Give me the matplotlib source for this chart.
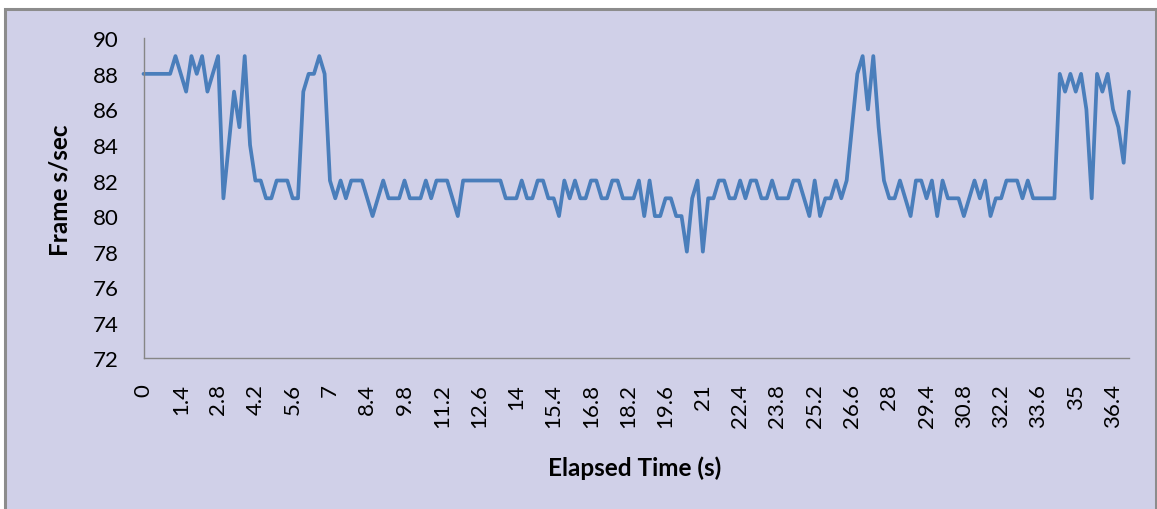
import matplotlib
matplotlib.use("Agg")
import matplotlib.pyplot as plt
from matplotlib.patches import Rectangle

# ---- data ----
elapsed_time = [round(0.2 * i, 1) for i in range(186)]
frames_per_sec = [
    88, 88, 88, 88, 88, 88, 89, 88, 87, 89,
    88, 89, 87, 88, 89, 81, 84, 87, 85, 89,
    84, 82, 82, 81, 81, 82, 82, 82, 81, 81,
    87, 88, 88, 89, 88, 82, 81, 82, 81, 82,
    82, 82, 81, 80, 81, 82, 81, 81, 81, 82,
    81, 81, 81, 82, 81, 82, 82, 82, 81, 80,
    82, 82, 82, 82, 82, 82, 82, 82, 81, 81,
    81, 82, 81, 81, 82, 82, 81, 81, 80, 82,
    81, 82, 81, 81, 82, 82, 81, 81, 82, 82,
    81, 81, 81, 82, 80, 82, 80, 80, 81, 81,
    80, 80, 78, 81, 82, 78, 81, 81, 82, 82,
    81, 81, 82, 81, 82, 82, 81, 81, 82, 81,
    81, 81, 82, 82, 81, 80, 82, 80, 81, 81,
    82, 81, 82, 85, 88, 89, 86, 89, 85, 82,
    81, 81, 82, 81, 80, 82, 82, 81, 82, 80,
    82, 81, 81, 81, 80, 81, 82, 81, 82, 80,
    81, 81, 82, 82, 82, 81, 82, 81, 81, 81,
    81, 81, 88, 87, 88, 87, 88, 86, 81, 88,
    87, 88, 86, 85, 83, 87,
]
y_ticks = [72, 74, 76, 78, 80, 82, 84, 86, 88, 90]
label_every = 7

plt.rcParams['font.family'] = ['Lato', 'DejaVu Sans']

W, H = 1157, 510
fig = plt.figure(figsize=(W / 100, H / 100), dpi=100)
fig.patch.set_facecolor('white')
bg = '#D0D0E8'

# chart area with border (behind the axes)
fig.patches.append(Rectangle((5 / W, -0.05), (1156 - 5) / W, 1.05 - 10 / H,
                             transform=fig.transFigure, facecolor=bg,
                             edgecolor='#8C8C8C', linewidth=2.2, zorder=-10))

left, right, top, bottom = 143.5, 1129, 39.3, 359.3
ax = fig.add_axes([left / W, 1 - bottom / H, (right - left) / W, (bottom - top) / H])
ax.set_zorder(1)
ax.patch.set_alpha(0)

x = list(range(len(frames_per_sec)))
ax.plot(x, frames_per_sec, color='#4A7EBB', linewidth=2.7,
        solid_joinstyle='round', solid_capstyle='round', clip_on=False)

ax.set_xlim(0, len(frames_per_sec) - 1)
ax.set_ylim(72, 90)
ax.set_yticks(y_ticks)
ax.set_yticklabels([str(v) for v in y_ticks], fontsize=16)
tick_pos = x[::label_every]
ax.set_xticks(tick_pos)
ax.set_xticklabels([('%g' % elapsed_time[i]) for i in tick_pos], rotation=90, fontsize=16)
ax.tick_params(axis='both', length=0, pad=18, colors='black')

for s in ['top', 'right']:
    ax.spines[s].set_visible(False)
for s in ['left', 'bottom']:
    ax.spines[s].set_color('#868686')
    ax.spines[s].set_linewidth(1.0)

fig.text(635 / W, 1 - 468 / H, 'Elapsed Time (s)', ha='center', va='center',
         fontsize=17.5, fontweight='bold')
fig.text(60 / W, 1 - 190 / H, 'Frame s/sec', ha='center', va='center',
         rotation=90, fontsize=17.5, fontweight='bold')

fig.savefig('out.png', dpi=100, facecolor='white')
